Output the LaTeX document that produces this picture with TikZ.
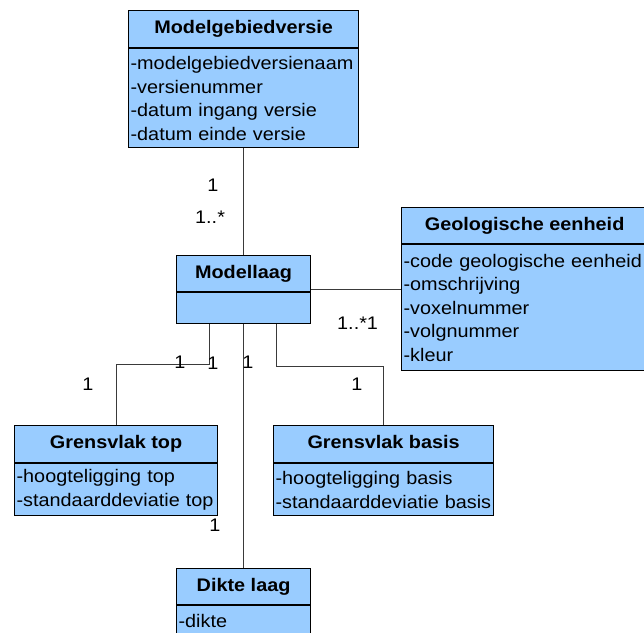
\documentclass[tikz,border=0pt]{standalone}
\usepackage{fontspec}
\setmainfont{Liberation Sans}[FakeStretch=1.09]
\usepackage{xcolor}
\usetikzlibrary{positioning}
\definecolor{UMLFill}{HTML}{99CCFF}
\definecolor{UMLLine}{HTML}{3A3A3A}
\hyphenpenalty=10000
\exhyphenpenalty=10000

\begin{document}
\begin{tikzpicture}[
    x=1pt, y=-1pt,
    every node/.style={font=\fontsize{18.2}{23.5}\selectfont},
    head/.style={draw=black, line width=1.2pt, fill=UMLFill, anchor=north west, inner sep=0pt, text height=13pt, text depth=4pt, font=\fontsize{18.2}{23.5}\selectfont\bfseries},
    attr/.style={draw=black, line width=1.2pt, fill=UMLFill, inner xsep=2pt, inner ysep=0pt, align=left},
    mult/.style={inner sep=0pt, anchor=base},
    link/.style={draw=UMLLine, line width=0.9pt}
  ]
    \useasboundingbox (0,0) rectangle (644,632);

    % classes
    \node[head, minimum width=230pt, minimum height=37pt] (versie) at (128,10) {Modelgebiedversie};
    \node[attr, below=0pt of versie, text width=226pt, minimum height=99pt] (versieattr) {-modelgebiedversienaam\\-versienummer\\-datum ingang versie\\-datum einde versie};
    \node[head, minimum width=246pt, minimum height=36pt] (eenheid) at (401,207) {Geologische eenheid};
    \node[attr, below=0pt of eenheid, text width=242pt, minimum height=126pt] (eenheidattr) {-code geologische eenheid\\-omschrijving\\-voxelnummer\\-volgnummer\\-kleur};
    \node[head, minimum width=134pt, minimum height=36pt] (laag) at (176,255) {Modellaag};
    \node[attr, below=0pt of laag, text width=130pt, minimum height=31pt] (laagattr) {};
    \node[head, minimum width=203pt, minimum height=37pt] (top) at (14,425) {Grensvlak top};
    \node[attr, below=0pt of top, text width=199pt, minimum height=52pt] (topattr) {-hoogteligging top\\-standaarddeviatie top};
    \node[head, minimum width=220pt, minimum height=37pt] (basis) at (273,425) {Grensvlak basis};
    \node[attr, below=0pt of basis, text width=216pt, minimum height=52pt] (basisattr) {-hoogteligging basis\\-standaarddeviatie basis};
    \node[head, minimum width=134pt, minimum height=36pt] (dikte) at (176,568) {Dikte laag};
    \node[attr, below=0pt of dikte, text width=130pt, minimum height=30pt] (dikteattr) {-dikte};

    % associations
    \draw[link] (versieattr.south) -- (laag.north);
    \draw[link] ([yshift=3pt]laagattr.north east) -- ([yshift=3pt]laagattr.north east -| eenheidattr.west);
    \draw[link] ([xshift=-34pt]laagattr.south) -- ++(0,40) -| (top.north);
    \draw[link] (laagattr.south) -- (dikte.north);
    \draw[link] ([xshift=33pt]laagattr.south) -- ++(0,42) -| (basis.north);

    % multiplicities
    \node[mult] (multversie) at (213,191) {1};
    \node[mult, anchor=base west] (multlaag) at (195,223) {1..*};
    \node[mult, anchor=base west] (multeenheid) at (337,329) {1..*1};
    \node[mult] (multtop) at (88,390) {1};
    \node[mult] (multtoplaag) at (180,368) {1};
    \node[mult] (multlaagtop) at (213,369) {1};
    \node[mult] (multlaagdikte) at (248,368) {1};
    \node[mult] (multbasis) at (357,390) {1};
    \node[mult] (multdikte) at (215,531) {1};
\end{tikzpicture}
\end{document}
